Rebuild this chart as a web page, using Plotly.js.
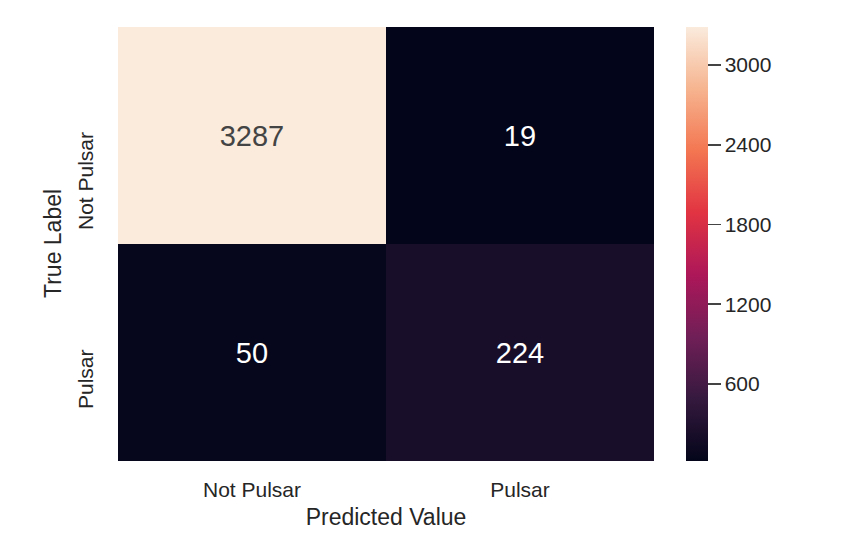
<!DOCTYPE html>
<html>
<head>
<meta charset="utf-8">
<script src="https://cdn.plot.ly/plotly-3.0.1.min.js"></script>
<style>html,body{margin:0;padding:0;background:#fff;}</style>
</head>
<body>
<div id="chart" style="width:864px;height:554px;"></div>
<script>
var predictedLabels = ["Not Pulsar", "Pulsar"];
var trueLabels = ["Not Pulsar", "Pulsar"];
var counts = [[3287, 19], [50, 224]];
var colorbarTicks = [600, 1200, 1800, 2400, 3000];

var rocket = [
  [0.0, "#03051a"],
  [0.143, "#35193e"],
  [0.286, "#701f57"],
  [0.429, "#ad1759"],
  [0.571, "#e13342"],
  [0.714, "#f37651"],
  [0.857, "#f6b48f"],
  [1.0, "#faebdd"]
];

var txtColor = "#262626";
var fontFam = "Liberation Sans, Arial, sans-serif";

var trace = {
  type: "heatmap",
  x: predictedLabels,
  y: trueLabels,
  z: counts,
  colorscale: rocket,
  texttemplate: "%{z}",
  textfont: {family: fontFam, size: 29},
  xgap: 0, ygap: 0,
  hoverinfo: "x+y+z",
  colorbar: {
    x: 1.0597, xanchor: "left", xref: "paper",
    y: 0.5, yanchor: "middle", len: 1, lenmode: "fraction",
    thickness: 22, thicknessmode: "pixels",
    xpad: 0, ypad: 0,
    outlinewidth: 0,
    tickvals: colorbarTicks,
    ticktext: colorbarTicks.map(String),
    ticks: "outside", ticklen: 13, tickwidth: 1.5, tickcolor: "#444",
    tickfont: {family: fontFam, size: 21, color: txtColor}
  }
};

var annotations = trueLabels.map(function (lab) {
  return {
    text: lab, xref: "paper", yref: "y", x: 0, y: lab,
    xanchor: "right", yanchor: "top", xshift: -19, yshift: 5,
    textangle: -90, showarrow: false,
    font: {family: fontFam, size: 21, color: txtColor}
  };
});
annotations.push({
  text: "True Label", xref: "paper", yref: "paper", x: 0, y: 0.5,
  xanchor: "right", yanchor: "middle", xshift: -50,
  textangle: -90, showarrow: false,
  font: {family: fontFam, size: 23, color: txtColor}
});

var layout = {
  width: 864, height: 554,
  margin: {l: 118, r: 210, t: 27, b: 93},
  paper_bgcolor: "#fff", plot_bgcolor: "#fff",
  xaxis: {
    type: "category", showgrid: false, zeroline: false, showline: false,
    ticks: "", ticklabelstandoff: 14,
    tickfont: {family: fontFam, size: 21, color: txtColor},
    title: {text: "Predicted Value", font: {family: fontFam, size: 23, color: txtColor}, standoff: 8}
  },
  yaxis: {
    type: "category", autorange: "reversed", showgrid: false, zeroline: false,
    showline: false, ticks: "", showticklabels: false
  },
  annotations: annotations
};

Plotly.newPlot("chart", [trace], layout, {displayModeBar: false, staticPlot: true});
</script>
</body>
</html>
